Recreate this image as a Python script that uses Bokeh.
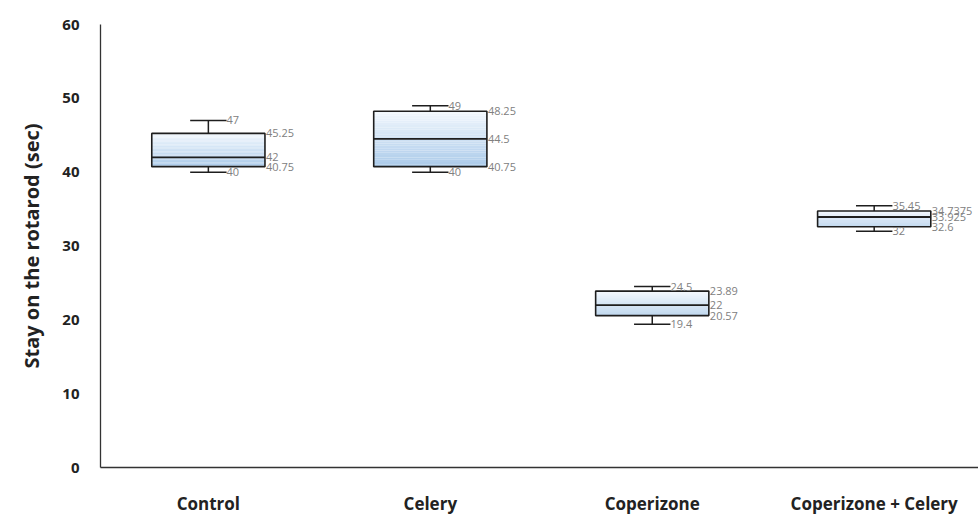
from bokeh.plotting import figure
from bokeh.models import Range1d, FixedTicker
from bokeh.core.properties import value
from bokeh.embed import file_html
from bokeh.resources import INLINE

categories = ["Control", "Celery", "Coperizone", "Coperizone + Celery"]
mins = [40, 40, 19.4, 32]
q1s = [40.75, 40.75, 20.57, 32.6]
medians = [42, 44.5, 22, 33.925]
q3s = [45.25, 48.25, 23.89, 34.7375]
maxs = [47, 49, 24.5, 35.45]
y_ticks = [0, 10, 20, 30, 40, 50, 60]

FONT = "Open Sans"
xs = [i + 0.5 for i in range(len(categories))]
bw = 0.255   # half box width
cw = 0.082   # half cap width

p = figure(width=978, height=517, output_backend="svg", toolbar_location=None,
           x_range=Range1d(0.014, 3.97), y_range=Range1d(0, 60),
           min_border_left=100, min_border_right=0, min_border_top=24, min_border_bottom=49)
p.outline_line_color = None
p.xgrid.grid_line_color = None
p.ygrid.grid_line_color = None

# gradient boxes made of horizontal strips
N = 24
top_c = (241, 247, 253)
bot_c = (172, 203, 234)
L, R, B, T, C = [], [], [], [], []
for x, lo, hi in zip(xs, q1s, q3s):
    for k in range(N):
        f = k / (N - 1)
        b = lo + (hi - lo) * k / N
        t = lo + (hi - lo) * (k + 1) / N
        col = tuple(int(round(bot_c[j] + (top_c[j] - bot_c[j]) * f)) for j in range(3))
        L.append(x - bw); R.append(x + bw); B.append(b); T.append(t)
        C.append("#%02x%02x%02x" % col)
p.quad(left=L, right=R, bottom=B, top=T, fill_color=C, line_color=None)

lc = "#1e1e1e"
p.quad(left=[x - bw for x in xs], right=[x + bw for x in xs], bottom=q1s, top=q3s,
       fill_color=None, line_color=lc, line_width=1.6)
p.segment(x0=[x - bw for x in xs], x1=[x + bw for x in xs], y0=medians, y1=medians,
          line_color=lc, line_width=1.8)
# whiskers
p.segment(x0=xs, x1=xs, y0=q3s, y1=maxs, line_color=lc, line_width=1.5)
p.segment(x0=xs, x1=xs, y0=q1s, y1=mins, line_color=lc, line_width=1.5)
p.segment(x0=[x - cw for x in xs], x1=[x + cw for x in xs], y0=maxs, y1=maxs, line_color=lc, line_width=1.5)
p.segment(x0=[x - cw for x in xs], x1=[x + cw for x in xs], y0=mins, y1=mins, line_color=lc, line_width=1.5)

def fmt(v):
    return "%g" % v

tc = "#808080"
# whisker labels
wx = [x + cw for x in xs] * 2
wy = maxs + mins
p.text(x=wx, y=wy, text=[fmt(v) for v in wy], text_font=value(FONT), text_font_size="11px",
       text_color=tc, text_baseline="middle", text_align="left", x_offset=0)
# box labels
bx = [x + bw for x in xs] * 3
by = q3s + medians + q1s
p.text(x=bx, y=by, text=[fmt(v) for v in by], text_font=value(FONT), text_font_size="11px",
       text_color=tc, text_baseline="middle", text_align="left", x_offset=1)

# axes
p.xaxis.ticker = FixedTicker(ticks=xs)
p.xaxis.major_label_overrides = {x: c for x, c in zip(xs, categories)}
p.xaxis.major_label_text_font = FONT
p.xaxis.major_label_text_font_style = "bold"
p.xaxis.major_label_text_font_size = "17px"
p.xaxis.major_label_text_color = "#222222"
p.xaxis.major_label_standoff = 18
p.xaxis.major_tick_line_color = None
p.xaxis.minor_tick_line_color = None
p.xaxis.axis_line_color = "#333333"
p.xaxis.axis_line_width = 1.3

p.yaxis.ticker = FixedTicker(ticks=y_ticks)
p.yaxis.major_label_text_font = FONT
p.yaxis.major_label_text_font_style = "bold"
p.yaxis.major_label_text_font_size = "15px"
p.yaxis.major_label_text_color = "#222222"
p.yaxis.major_label_standoff = 15
p.yaxis.major_tick_line_color = None
p.yaxis.minor_tick_line_color = None
p.yaxis.axis_line_color = "#333333"
p.yaxis.axis_line_width = 1.3
p.yaxis.axis_label = "Stay on the rotarod (sec)"
p.yaxis.axis_label_text_font = FONT
p.yaxis.axis_label_text_font_style = "bold"
p.yaxis.axis_label_text_font_size = "20px"
p.yaxis.axis_label_text_color = "#222222"
p.yaxis.axis_label_standoff = 14

open("out.html", "w").write(file_html(p, INLINE))
